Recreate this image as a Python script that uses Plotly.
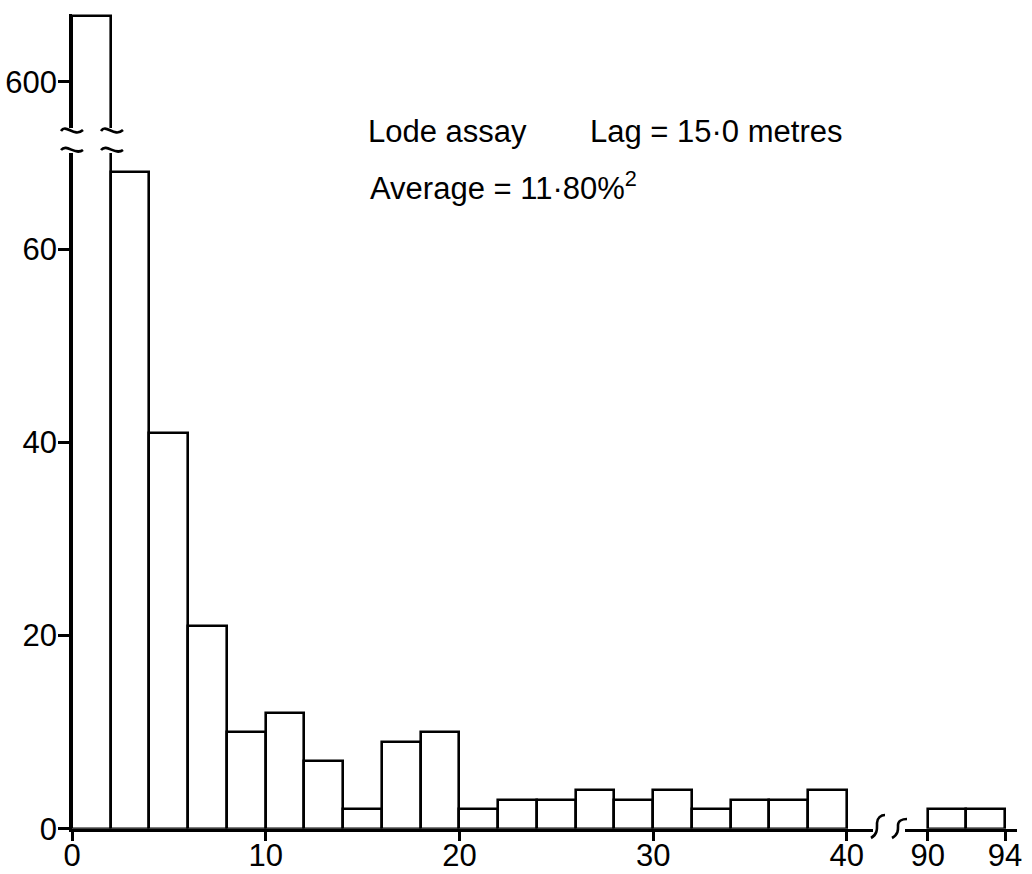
import plotly.graph_objects as go

# Histogram of squared differences (lode assay, lag 15.0 m), bin width 2
bin_left = [0, 2, 4, 6, 8, 10, 12, 14, 16, 18, 20, 22, 24, 26, 28, 30, 32, 34, 36, 38]
counts = [640, 68, 41, 21, 10, 12, 7, 2, 9, 10, 2, 3, 3, 4, 3, 4, 2, 3, 3, 4]
tail_left = [90, 92]
tail_counts = [2, 2]
bin_width = 2

x_ticks = [0, 10, 20, 30, 40]
x_tail_ticks = [90, 94]
y_ticks = [0, 20, 40, 60]
y_top_ticks = [600]

W, H = 1032, 874
FONT = "Liberation Sans, Arial, sans-serif"
LW = 2.6


def px(x):
    return x / W


def py(y):
    return 1 - y / H


bar_style = dict(marker=dict(color="white", line=dict(color="black", width=LW)),
                 width=bin_width, offset=0, showlegend=False, hoverinfo="skip")

fig = go.Figure()
# main section 0-40, lower part of the value axis
fig.add_trace(go.Bar(x=bin_left, y=counts, xaxis="x", yaxis="y", **bar_style))
# main section, upper part of the value axis (tall first bin)
fig.add_trace(go.Bar(x=bin_left[:1], y=counts[:1], xaxis="x", yaxis="y2", **bar_style))
# tail section 90-94
fig.add_trace(go.Bar(x=tail_left, y=tail_counts, xaxis="x3", yaxis="y", **bar_style))

axis_common = dict(showline=True, linecolor="black", linewidth=LW, ticks="outside",
                   tickcolor="black", tickwidth=LW, showgrid=False, zeroline=False,
                   automargin=False,
                   tickfont=dict(family=FONT, size=31, color="black"), fixedrange=True)
x_common = dict(ticklen=9, anchor="y", ticklabelstandoff=-12, **axis_common)
y_common = dict(ticklen=11, anchor="x", ticklabelstandoff=-5, **axis_common)

fig.update_layout(
    width=W, height=H, margin=dict(l=0, r=0, t=0, b=0, pad=0),
    paper_bgcolor="white", plot_bgcolor="white", bargap=0,
    xaxis=dict(domain=[px(72), px(873)], range=[0, 41.35], tickvals=x_ticks, **x_common),
    xaxis3=dict(domain=[px(905), px(1017)], range=[88.83, 94.62], tickvals=x_tail_ticks,
                **x_common),
    yaxis=dict(domain=[py(828.7), py(153)], range=[0, 70], tickvals=y_ticks, **y_common),
    yaxis2=dict(domain=[py(128), py(14)], range=[572.1, 641.2], tickvals=y_top_ticks,
                **y_common),
)


def to_paper(path):
    """Convert a path written in pixel coordinates to paper coordinates."""
    tokens = path.replace(",", " ").split()
    out, i = [], 0
    while i < len(tokens):
        t = tokens[i]
        if t.isalpha():
            out.append(t)
            i += 1
        else:
            out.append(f"{px(float(t)):.5f},{py(float(tokens[i + 1])):.5f}")
            i += 2
    return " ".join(out)


# break marks on the value axis and on the first bar's right edge
breaks = []
for cx in (72, 112):
    breaks.append(f"M {cx-11},{131} C {cx-6},{123} {cx+2},{138} {cx+11},{130}")
    breaks.append(f"M {cx-11},{150} C {cx-5},{143} {cx+3},{156} {cx+11},{150}")
# break marks on the x axis
breaks.append("M 871,838 C 878,834 877,828 877,823 C 877,818 881,815 885,815")
breaks.append("M 892,838 C 899,834 898,829 898,825 C 898,821 902,819 907,819")
for p in breaks:
    fig.add_shape(type="path", path=to_paper(p), xref="paper", yref="paper",
                  line=dict(color="black", width=LW))

ann_font = dict(family=FONT, size=31, color="black")
fig.add_annotation(x=px(366), y=py(131), xref="paper", yref="paper", text="Lode assay",
                   showarrow=False, xanchor="left", yanchor="middle", font=ann_font)
fig.add_annotation(x=px(588), y=py(131), xref="paper", yref="paper", text="Lag = 15·0 metres",
                   showarrow=False, xanchor="left", yanchor="middle", font=ann_font)
fig.add_annotation(x=px(368), y=py(186), xref="paper", yref="paper",
                   text="Average = 11·80%<sup>2</sup>",
                   showarrow=False, xanchor="left", yanchor="middle", font=ann_font)

fig.write_html("out.html")
